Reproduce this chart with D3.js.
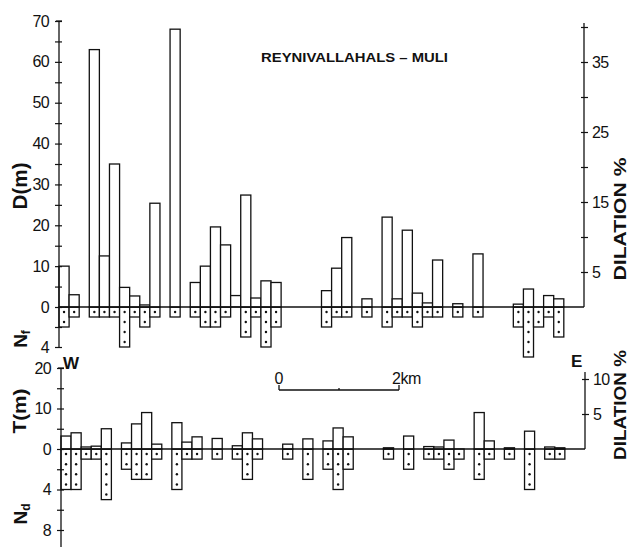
<!DOCTYPE html>
<html><head><meta charset="utf-8">
<script src="https://cdn.jsdelivr.net/npm/d3@7"></script>
<style>body{margin:0;background:#fff}svg{display:block}</style>
</head><body><svg id="c" width="632" height="547"></svg>
<script>
// ---- data ----
const slots = d3.range(52); // station slots along profile W -> E
const topStations = [0,1,3,4,5,6,7,8,9,11,13,14,15,16,17,18,19,20,21,26,27,28,30,32,33,34,35,36,37,39,41,45,46,47,48,49];
const topD  = [10,3,63,12.5,35,4.8,2.7,0.5,25.4,68,6,10,19.6,15.2,2.8,27.4,2.2,6.4,6,4,9.5,17,2,22,2,18.8,3.4,1,11.5,0.8,13,0.7,4.4,0,2.8,2];
const topNf = [2,1,1,1,1,4,1,2,1,1,1,2,2,1,0,3,1,4,2,2,1,1,1,2,1,1,2,1,1,1,1,2,5,2,1,3];
const botStations = [0,1,2,3,4,6,7,8,9,11,12,13,15,17,18,19,22,24,26,27,28,32,34,36,37,38,39,41,42,44,46,48,49];
const botT  = [3.2,4,0.5,0.7,5,1.5,6.2,9,1.2,6.5,1.7,3,2.6,0.8,4,2.5,1.2,2.5,2,5.2,3,0.3,3.2,0.6,0.5,2.2,0,9,2,0.3,4.4,0.5,0.3];
const botNd = [4,4,1,1,5,2,3,3,1,4,1,1,1,1,3,1,1,3,2,4,2,1,2,1,1,2,1,3,1,1,4,1,1];
const dTicks = [0,5,10,15,20,25,30,35,40,45,50,55,60,65,70];
const dLabels = [0,10,20,30,40,50,60,70];
const nfTicks = [2,4], nfLabels = [4];
const dilTopTicks = [5,10,15,20,25,30,35,40], dilTopLabels = [5,15,25,35];
const tTicks = [0,5,10,15,20], tLabels = [0,10,20];
const ndTicks = [2,4,6,8], ndLabels = [4,8];
const dilBotTicks = [5,10], dilBotLabels = [5,10];
const title = "REYNIVALLAHALS – MULI";

const svg = d3.select("#c");
const FONT = "'Liberation Sans', Arial, sans-serif";
const ink = "#111";

// ---- scales ----
const xTop = d3.scaleBand().domain(slots).range([59, 584]).paddingInner(0).paddingOuter(0);
const xBot = d3.scaleBand().domain(slots).range([61, 585]).paddingInner(0).paddingOuter(0);
const yD = d3.scaleLinear().domain([0,70]).range([307,21]);
const yNf = d3.scaleLinear().domain([0,4]).range([307,347]);
const yDilT = d3.scaleLinear().domain([0,40]).range([307,27]);
const yT = d3.scaleLinear().domain([0,20]).range([449,368]);
const yNd = d3.scaleLinear().domain([0,8]).range([449,530]);
const yDilB = d3.scaleLinear().domain([0,10]).range([449,379]);

function panel(x, stations, vals, counts, yUp, yDown){
  const g = svg.append("g");
  const data = stations.map((s,i)=>({s, v:vals[i], n:counts[i]}));
  g.selectAll("rect.n").data(data.filter(d=>d.n>0)).join("rect")
    .attr("x", d=>x(d.s)).attr("width", x.bandwidth())
    .attr("y", yDown(0)).attr("height", d=>yDown(d.n)-yDown(0))
    .attr("fill","#fff").attr("stroke",ink).attr("stroke-width",1.3);
  const dots = [];
  data.forEach(d=>{ for(let k=0;k<d.n;k++) dots.push({s:d.s,k}); });
  g.selectAll("circle").data(dots).join("circle")
    .attr("cx", d=>x(d.s)+x.bandwidth()/2).attr("cy", d=>yDown(d.k+0.5))
    .attr("r",1.2).attr("fill",ink);
  g.selectAll("rect.v").data(data.filter(d=>d.v>0)).join("rect")
    .attr("x", d=>x(d.s)).attr("width", x.bandwidth())
    .attr("y", d=>yUp(d.v)).attr("height", d=>yUp(0)-yUp(d.v))
    .attr("fill","#fff").attr("stroke",ink).attr("stroke-width",1.3);
  return g;
}

function axisGroup(xpos, axisFn, scale, ticks, labels, side){
  const ax = axisFn(scale).tickValues(ticks).tickSize(4).tickPadding(side==="left"?6:4)
    .tickFormat(d=>labels.includes(d)?String(d):"");
  const g = svg.append("g").attr("transform",`translate(${xpos},0)`).call(ax);
  g.select(".domain").remove();
  g.selectAll(".tick line").attr("stroke",ink).attr("stroke-width",1.2)
    .attr("x1", side==="left"?3:-3);
  g.selectAll(".tick text").attr("font-family",FONT).attr("font-size",16)
    .attr("letter-spacing",-0.6).attr("fill",ink);
  return g;
}
function vline(x,y1,y2){ svg.append("line").attr("x1",x).attr("x2",x).attr("y1",y1).attr("y2",y2).attr("stroke",ink).attr("stroke-width",1.3); }
function hline(x1,x2,y,w){ svg.append("line").attr("x1",x1).attr("x2",x2).attr("y1",y).attr("y2",y).attr("stroke",ink).attr("stroke-width",w||1.4); }

// ---- top panel ----
panel(xTop, topStations, topD, topNf, yD, yNf);
hline(59, 584, yD(0), 1.5);
vline(59, yD(70), yNf(4));
hline(56, 62, yD(70), 1.2);
axisGroup(59, d3.axisLeft, yD, dTicks, dLabels, "left");
axisGroup(59, d3.axisLeft, yNf, nfTicks, nfLabels, "left");
vline(584, 23, yDilT(0));
axisGroup(584, d3.axisRight, yDilT, dilTopTicks, dilTopLabels, "right");

// ---- bottom panel ----
panel(xBot, botStations, botT, botNd, yT, yNd);
hline(61, 585, yT(0), 1.5);
vline(61, yT(20), 547);
hline(58, 64, yT(20), 1.2);
axisGroup(61, d3.axisLeft, yT, tTicks, tLabels, "left");
axisGroup(61, d3.axisLeft, yNd, ndTicks, ndLabels, "left");
vline(585, 372, yDilB(0));
axisGroup(585, d3.axisRight, yDilB, dilBotTicks, dilBotLabels, "right");

// ---- labels ----
function rotLabel(x,y,txt,size,len){
  const t = svg.append("text").attr("transform",`translate(${x},${y}) rotate(-90)`)
    .attr("text-anchor","middle").attr("font-family",FONT).attr("font-weight","bold")
    .attr("font-size",size).attr("fill",ink).text(txt);
  if(len) t.attr("textLength",len).attr("lengthAdjust","spacingAndGlyphs");
  return t;
}
rotLabel(27,186,"D(m)",20,47);
rotLabel(26,411,"T(m)",18,45);
const nf = svg.append("text").attr("transform","translate(27,339) rotate(-90)").attr("text-anchor","middle")
  .attr("font-family",FONT).attr("font-weight","bold").attr("font-size",19).attr("fill",ink);
nf.append("tspan").text("N"); nf.append("tspan").attr("font-size",12).attr("dy",3).text("f");
const nd = svg.append("text").attr("transform","translate(27,514) rotate(-90)").attr("text-anchor","middle")
  .attr("font-family",FONT).attr("font-weight","bold").attr("font-size",19).attr("fill",ink);
nd.append("tspan").text("N"); nd.append("tspan").attr("font-size",12).attr("dy",3).text("d");
rotLabel(626,219,"DILATION %",17,123);
rotLabel(626,405,"DILATION %",17,110);

svg.append("text").attr("x",261).attr("y",62).attr("font-family",FONT).attr("font-weight","bold")
  .attr("font-size",13).attr("textLength",187).attr("lengthAdjust","spacingAndGlyphs").attr("fill",ink).text(title);
svg.append("text").attr("x",63).attr("y",369).attr("font-family",FONT).attr("font-weight","bold")
  .attr("font-size",17).attr("fill",ink).text("W");
svg.append("text").attr("x",571).attr("y",367).attr("font-family",FONT).attr("font-weight","bold")
  .attr("font-size",17).attr("fill",ink).text("E");

// scale bar
const km = d3.scaleLinear().domain([0,2]).range([279,399]);
hline(km(0), km(2), 390, 1.3);
[0,1,2].forEach(v=>vline(km(v), v===1?388:385, 390));
svg.append("text").attr("x",km(0)).attr("y",384).attr("text-anchor","middle").attr("font-family",FONT)
  .attr("font-size",16).attr("fill",ink).text("0");
svg.append("text").attr("x",392).attr("y",384).attr("font-family",FONT)
  .attr("font-size",16).attr("letter-spacing",-0.5).attr("fill",ink).text("2km");
</script></body></html>
